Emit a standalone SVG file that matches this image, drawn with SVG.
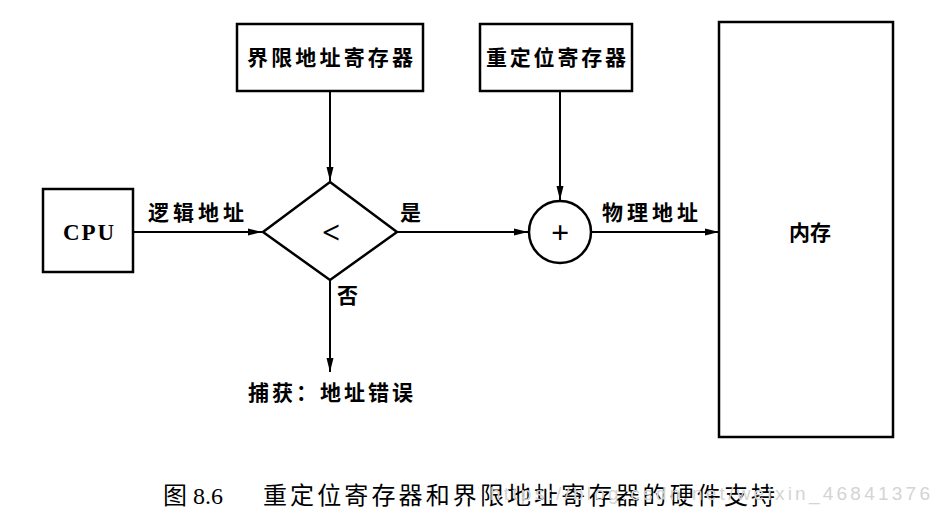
<svg xmlns="http://www.w3.org/2000/svg" width="938" height="522" viewBox="0 0 938 522">
<style>
.box{fill:#fff;stroke:#000;stroke-width:2.5}
.ln{fill:none;stroke:#000;stroke-width:2}
.t{font-family:"Noto Sans CJK SC","Liberation Sans",sans-serif;font-size:21px;font-weight:bold;fill:#000}
.c{font-family:"Liberation Serif","Noto Sans CJK SC",serif;fill:#000}
</style>
<defs>
<marker id="ar" viewBox="0 0 14 8" refX="14" refY="4" markerWidth="14" markerHeight="8" markerUnits="userSpaceOnUse" orient="auto">
<path d="M0,0.5 L14,4 L0,7.5 Z" fill="#000"/>
</marker>
</defs>
<rect width="938" height="522" fill="#fff"/>
<g id="connectors">
<line class="ln" x1="133" y1="232" x2="262" y2="232" marker-end="url(#ar)"/>
<line class="ln" x1="330" y1="91" x2="330" y2="181" marker-end="url(#ar)"/>
<line class="ln" x1="397" y1="232" x2="528" y2="232" marker-end="url(#ar)"/>
<line class="ln" x1="560" y1="91" x2="560" y2="200" marker-end="url(#ar)"/>
<line class="ln" x1="591" y1="232" x2="719" y2="232" marker-end="url(#ar)"/>
<line class="ln" x1="330" y1="280" x2="330" y2="372" marker-end="url(#ar)"/>
<text class="t" x="148" y="220" textLength="96">逻辑地址</text>
<text class="t" x="400" y="220">是</text>
<text class="t" x="602" y="220" textLength="96">物理地址</text>
<text class="t" x="337" y="303" font-size="19">否</text>
</g>
<g id="cpu">
<rect class="box" x="43" y="189" width="90" height="83"/>
<text class="c" x="88" y="240" font-size="23" font-weight="bold" text-anchor="middle" textLength="50" letter-spacing="-1">CPU</text>
</g>
<g id="limit">
<rect class="box" x="237" y="24" width="186" height="67"/>
<text class="t" x="330" y="65" text-anchor="middle" textLength="166">界限地址寄存器</text>
</g>
<g id="reloc">
<rect class="box" x="480" y="24" width="152" height="67"/>
<text class="t" x="556" y="65" text-anchor="middle" textLength="140">重定位寄存器</text>
</g>
<g id="compare">
<polygon class="box" points="330,182 397,232 330,280 263,232"/>
<text class="c" x="331" y="243" font-size="32" font-weight="bold" text-anchor="middle">&lt;</text>
</g>
<g id="adder">
<circle class="box" cx="560" cy="232" r="31"/>
<text class="c" x="560" y="243" font-size="32" font-weight="bold" text-anchor="middle">+</text>
</g>
<g id="memory">
<rect class="box" x="719" y="22" width="174" height="415"/>
<text class="t" x="810" y="240" text-anchor="middle">内存</text>
</g>
<g id="trap">
<text class="t" x="248" y="400" textLength="165">捕获：地址错误</text>
</g>
<g id="caption">
<text class="c" x="163" y="504" font-size="24">图 8.6</text>
<text class="c" x="263" y="504" font-size="24" textLength="512">重定位寄存器和界限地址寄存器的硬件支持</text>
<text x="490" y="500" font-family="Liberation Sans,sans-serif" font-size="19" fill="#d4d4d4" textLength="440">https://blog.csdn.net/weixin_46841376</text>
</g>
</svg>
